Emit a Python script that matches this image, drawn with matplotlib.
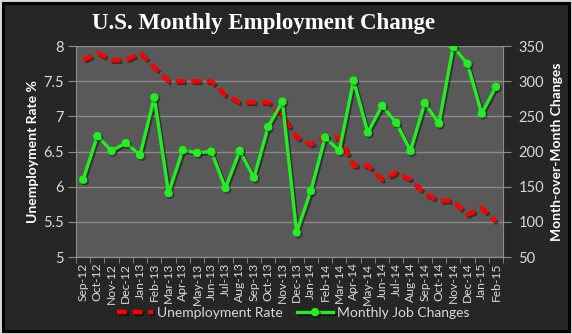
import matplotlib.pyplot as plt
import matplotlib.patheffects as pe
from matplotlib.patches import Rectangle
import numpy as np

plt.rcParams['font.family'] = ['Lato', 'DejaVu Sans']

months = ['Sep-12', 'Oct-12', 'Nov-12', 'Dec-12', 'Jan-13', 'Feb-13', 'Mar-13', 'Apr-13',
          'May-13', 'Jun-13', 'Jul-13', 'Aug-13', 'Sep-13', 'Oct-13', 'Nov-13', 'Dec-13',
          'Jan-14', 'Feb-14', 'Mar-14', 'Apr-14', 'May-14', 'Jun-14', 'Jul-14', 'Aug-14',
          'Sep-14', 'Oct-14', 'Nov-14', 'Dec-14', 'Jan-15', 'Feb-15']

unemployment_rate = [7.8, 7.9, 7.8, 7.8, 7.9, 7.7, 7.5, 7.5, 7.5, 7.5, 7.3, 7.2, 7.2, 7.2, 7.0,
                     6.7, 6.6, 6.7, 6.7, 6.3, 6.3, 6.1, 6.2, 6.1, 5.9, 5.8, 5.8, 5.6, 5.7, 5.5]

job_changes = [160, 222, 201, 212, 195, 277, 141, 202, 198, 200, 148, 201, 163, 235, 271,
               85, 144, 220, 201, 301, 227, 265, 241, 201, 269, 240, 349, 325, 254, 292]

bg = '#262626'
plot_bg = '#595959'
grid_c = '#8a8a8a'
txt = '#d9d9d9'

fig = plt.figure(figsize=(5.72, 3.34), dpi=100)
fig.patch.set_facecolor('#d6d6d6')

# dark chart frame behind everything
back = fig.add_axes([0, 0, 1, 1], zorder=-1)
back.axis('off')
back.set_xlim(0, 572)
back.set_ylim(0, 334)
back.add_patch(Rectangle((2.5, 3.5), 566, 328, facecolor=bg, edgecolor='black', linewidth=2.2))

ax = fig.add_axes([0.1329, 0.2305, 0.7465, 0.6317])
ax.set_facecolor(plot_bg)
x = np.arange(len(months))

shadow = [pe.SimpleLineShadow(offset=(1.2, -1.2), shadow_color='black', alpha=0.45), pe.Normal()]

l1, = ax.plot(x, unemployment_rate, color='#ff0000', lw=3.2, ls=(0, (2.2, 1.3)),
              label='Unemployment Rate', path_effects=shadow, zorder=3)
ax.set_ylim(5, 8)
ax.set_xlim(-0.5, len(months) - 0.5)
ax.set_yticks(np.arange(5, 8.01, 0.5))
ax.set_yticklabels(['5', '5.5', '6', '6.5', '7', '7.5', '8'])
ax.yaxis.grid(True, color=grid_c, lw=1)
ax.set_axisbelow(True)

ax.set_xticks(x)
ax.set_xticklabels(months, rotation=90)
ax.set_xticks(np.arange(-0.5, len(months), 1), minor=True)
ax.tick_params(axis='x', which='major', length=0, pad=4, colors=txt, labelsize=8.7)
ax.tick_params(axis='x', which='minor', length=4, color='#8c8c8c', direction='out')
ax.tick_params(axis='y', length=6, color='#8c8c8c', colors=txt, labelsize=10.5, pad=3)

ax2 = ax.twinx()
l2, = ax2.plot(x, job_changes, color='#22ee22', lw=2.4, marker='o', ms=5,
               label='Monthly Job Changes', path_effects=shadow, zorder=4)
ax2.set_ylim(50, 350)
ax2.set_yticks(np.arange(50, 351, 50))
ax2.tick_params(axis='y', length=6, color='#8c8c8c', colors=txt, labelsize=10.5, pad=5)

for a in (ax, ax2):
    for s in a.spines.values():
        s.set_visible(False)
    a.spines['bottom'].set_visible(True)
    a.spines['bottom'].set_color('#8c8c8c')
ax.spines['left'].set_visible(True)
ax.spines['left'].set_color('#8c8c8c')
ax2.spines['right'].set_visible(True)
ax2.spines['right'].set_color('#8c8c8c')

ax.set_ylabel('Unemployment Rate %', color='white', fontsize=10, fontweight='bold', labelpad=3)
ax2.set_ylabel('Month-over-Month Changes', color='white', fontsize=10, fontweight='bold',
               labelpad=5)

fig.text(0.461, 0.93, 'U.S. Monthly Employment Change', ha='center', va='center', color='white',
         fontsize=16.5, fontweight='bold', family='Liberation Serif')

fig.legend(handles=[l1, l2], loc='center', bbox_to_anchor=(0.513, 0.063), ncol=2, frameon=False,
           labelcolor=txt, fontsize=10, handlelength=2.6, columnspacing=1.0, handletextpad=0.3)

fig.savefig('out.png', dpi=100, facecolor=fig.get_facecolor())
